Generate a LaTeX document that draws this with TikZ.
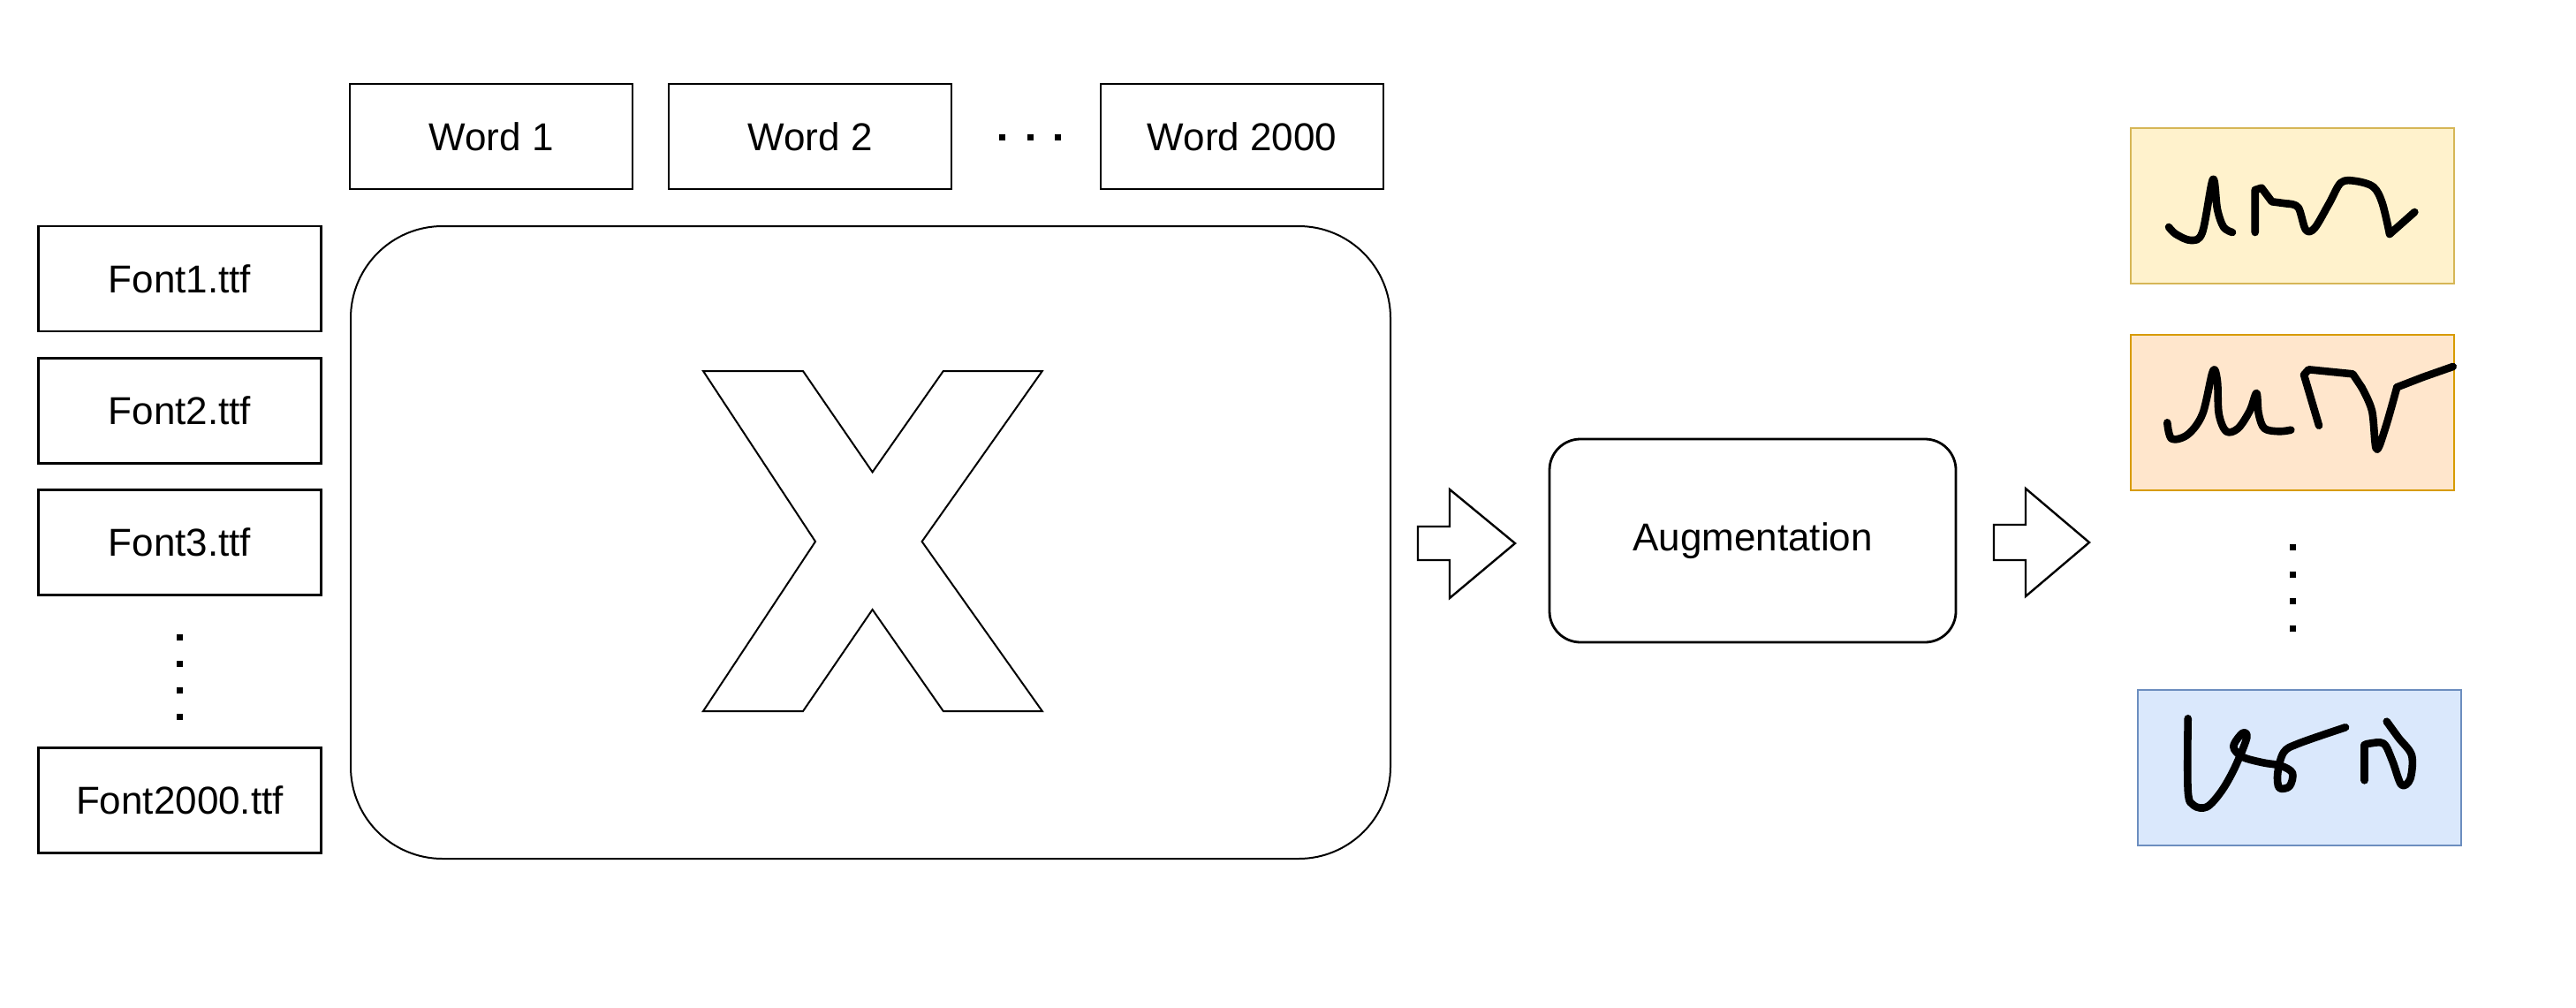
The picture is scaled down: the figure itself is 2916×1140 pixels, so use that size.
\documentclass[tikz,border=0pt]{standalone}
\usepackage{fontspec}
\setmainfont{Liberation Sans}
\definecolor{yfill}{HTML}{FFF2CC}\definecolor{ydraw}{HTML}{D6B656}
\definecolor{ofill}{HTML}{FFE6CC}\definecolor{odraw}{HTML}{D79B00}
\definecolor{bfill}{HTML}{DAE8FC}\definecolor{bdraw}{HTML}{6C8EBF}
\tikzset{
  inbox/.style={draw, line width=1.4pt, minimum width=160pt, minimum height=59.5pt, inner sep=0pt, font=\fontsize{22}{26}\selectfont},
  outbox/.style={draw, line width=1pt, minimum width=183pt, minimum height=88pt, inner sep=0pt},
  scribble/.style={line width=4.3pt, line cap=round, line join=round},
  blockarrow/.style={draw, line width=1.2pt, fill=white, line join=miter},
  dotsq/.style={fill=black, minimum size=3.5pt, inner sep=0pt},
}
\begin{document}
\begin{tikzpicture}[x=0.5pt,y=-0.5pt]
\useasboundingbox (0,0) rectangle (2916,1140);
% word boxes
\node[inbox] (w1) at (556,154.5) {Word 1};
\node[inbox] (w2) at (917,154.5) {Word 2};
\node[inbox] (w3) at (1406,154.5) {Word 2000};
\foreach \i/\x in {1/1134,2/1166,3/1197}{\node[dotsq] (hd\i) at (\x,155) {};}
% font boxes
\node[inbox] (f1) at (203.5,315.5) {Font1.ttf};
\node[inbox] (f2) at (203.5,465) {Font2.ttf};
\node[inbox] (f3) at (203.5,614) {Font3.ttf};
\node[inbox] (f4) at (203.5,906) {Font2000.ttf};
\foreach \i/\y in {1/721,2/751,3/781,4/811}{\node[dotsq] (vd\i) at (203,\y) {};}
% big box
\node[draw, line width=1pt, rounded corners=52pt, minimum width=588.5pt, minimum height=358pt] (big) at (985.5,614) {};
\draw[line width=1pt, line join=miter] (796,420) -- (909,420) -- (987.6,534.4) -- (1067.8,420) -- (1179.8,420)
  -- (1043.6,613) -- (1179.8,805) -- (1067.8,805) -- (987.6,690) -- (909,805) -- (796,805) -- (923,613) -- cycle;
% arrows
\draw[blockarrow] (1605,596) -- (1641,596) -- (1641,554) -- (1715,615) -- (1641,677) -- (1641,634) -- (1605,634) -- cycle;
\node[draw, line width=1.4pt, rounded corners=17.5pt, minimum width=230pt, minimum height=115pt, font=\fontsize{22}{26}\selectfont] (aug) at (1984,612) {Augmentation};
\draw[blockarrow] (2257,594) -- (2293,594) -- (2293,553) -- (2365,614) -- (2293,675) -- (2293,634) -- (2257,634) -- cycle;
% output boxes
\node[outbox, draw=ydraw, fill=yfill] (o1) at (2595,233) {};
\node[outbox, draw=odraw, fill=ofill] (o2) at (2595,467) {};
\node[outbox, draw=bdraw, fill=bfill] (o3) at (2603,868.5) {};
\foreach \i/\y in {1/619,2/650,3/680,4/711}{\node[dotsq] (rd\i) at (2595,\y) {};}
% scribbles yellow
\draw[scribble] plot[smooth, tension=0.55] coordinates {(2455,257) (2463,265) (2480,272) (2493,263) (2505,203) (2510,237) (2517,257) (2527,263)};
\draw[scribble] (2552.7,263) -- (2552.7,215) -- (2560,212.7) -- (2571.7,228.3) -- (2590,230.7);
\draw[scribble] plot[smooth, tension=0.55] coordinates {(2590,230.7) (2601.7,235) (2610,260) (2620,258.3) (2636.7,230) (2650,206.7) (2666.7,205) (2686.7,211.7) (2696.7,230) (2705,265)};
\draw[scribble] (2705,265) -- (2718.3,253.3) -- (2733.3,240);
% scribbles orange
\draw[scribble] plot[smooth, tension=0.55] coordinates {(2453.3,478.3) (2458.3,496.7) (2476.7,491.7) (2493.3,468.3) (2505,420) (2510,431.7) (2511.7,468.3) (2520,488.3) (2533.3,485) (2546.7,465) (2554.3,445) (2556.7,468.3) (2563.3,485) (2580,488.3) (2593.3,486.7)};
\draw[scribble] (2625,481.7) -- (2608,424.3) -- (2613.3,418.3) -- (2663.3,423.3) -- (2673.3,438.3);
\draw[scribble] plot[smooth, tension=0.55] coordinates {(2673.3,438.3) (2685,465) (2690,508.3) (2700,485) (2713.3,438.3)};
\draw[scribble] (2713.3,438.3) -- (2743.3,426.7) -- (2776.7,415);
% scribbles blue
\draw[scribble] plot[smooth, tension=0.55] coordinates {(2476.7,813.3) (2476.7,895) (2483.3,911.7) (2498.3,913.3) (2515,895) (2530,868.3) (2543.3,835) (2538.3,830) (2528.3,845) (2538.3,856.7) (2561.7,863.3) (2581.7,866.7) (2595,875) (2591.7,890) (2580,891.7) (2578.3,875) (2585,851.7) (2601.7,841.7) (2655,823.3)};
\draw[scribble] (2676.7,883.3) -- (2676.7,843.3);
\draw[scribble] plot[smooth, tension=0.55] coordinates {(2676.7,843.3) (2681.7,841.7) (2698.3,841.7) (2708.3,861.7) (2718.3,888.3) (2728.3,881.7) (2730,855) (2715,835) (2701.7,816.7)};
\end{tikzpicture}
\end{document}
